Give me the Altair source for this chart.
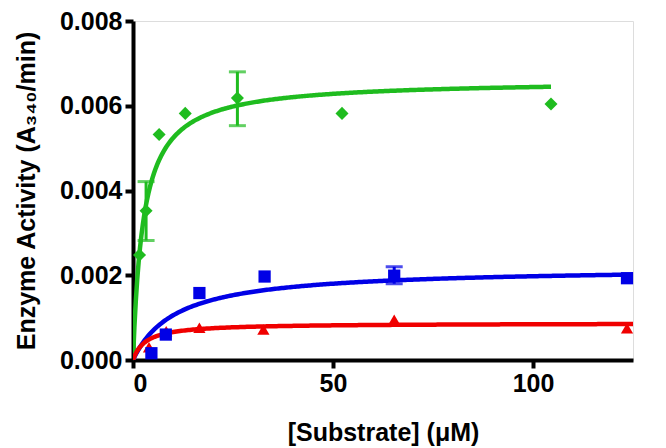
import altair as alt
import numpy as np
import pandas as pd

# ---- data ----
green_x = [1.63, 3.27, 6.53, 13.06, 26.1, 52.25, 104.5]
green_y = [0.00248, 0.00352, 0.00532, 0.00582, 0.00618, 0.00582, 0.00604]
blue_x = [4.6, 8.2, 16.6, 32.9, 65.3, 123.5]
blue_y = [0.00016, 0.00060, 0.00158, 0.00197, 0.00199, 0.00193]
red_x = [4.0, 8.3, 16.6, 32.6, 65.3, 123.5]
red_y = [0.00030, 0.00068, 0.00076, 0.00072, 0.00095, 0.00075]

# error bars (series, x, low, high)
err_series = ["green", "green", "blue"]
err_x = [3.27, 26.1, 65.3]
err_lo = [0.00282, 0.00553, 0.00180]
err_hi = [0.00421, 0.00680, 0.00220]

# Michaelis-Menten fit parameters (Vmax, Km, x-range end)
fit_series = ["green", "blue", "red"]
fit_vmax = [0.00661, 0.00219, 0.00087]
fit_km = [2.62, 10.8, 3.2]
fit_xmax = [104.5, 125.0, 125.0]

colors = {"green": "#1FBC1F", "blue": "#0000E6", "red": "#F00000"}
shapes = {"green": "diamond", "blue": "square", "red": "triangle-up"}
sizes = {"green": 170, "blue": 150, "red": 150}

pts = pd.concat([
    pd.DataFrame({"x": green_x, "y": green_y, "s": "green"}),
    pd.DataFrame({"x": blue_x, "y": blue_y, "s": "blue"}),
    pd.DataFrame({"x": red_x, "y": red_y, "s": "red"}),
])

curves = []
for s, v, k, xm in zip(fit_series, fit_vmax, fit_km, fit_xmax):
    xs = np.linspace(0, xm, 300)
    curves.append(pd.DataFrame({"x": xs, "y": v * xs / (k + xs), "s": s}))
curves = pd.concat(curves)

errs = pd.DataFrame({"s": err_series, "x": err_x, "lo": err_lo, "hi": err_hi})

xscale = alt.Scale(domain=[0, 125], nice=False)
yscale = alt.Scale(domain=[0, 0.008], nice=False)

axis_common = dict(
    domainColor="black", domainWidth=4, tickColor="black", tickWidth=4,
    tickSize=8, labelFont="Liberation Sans", labelFontWeight="bold",
    labelFontSize=25, labelColor="black", titleFont="Liberation Sans",
    titleFontWeight="bold", titleFontSize=25, titleColor="black", grid=False,
    labelPadding=3,
)

xenc = alt.X("x:Q", scale=xscale, axis=alt.Axis(
    title="[Substrate] (μM)", values=[0, 50, 100], titlePadding=24, **axis_common))
yenc = alt.Y("y:Q", scale=yscale, axis=alt.Axis(
    title="Enzyme Activity (A₃₄₀/min)", values=[0, 0.002, 0.004, 0.006, 0.008],
    format=".3f", titlePadding=20, **axis_common))

layers = []
for s in fit_series:
    layers.append(
        alt.Chart(curves[curves.s == s]).mark_line(
            color=colors[s], strokeWidth=4.5, clip=True
        ).encode(x=xenc, y=yenc)
    )

for s in ["green", "blue"]:
    e = errs[errs.s == s]
    layers.append(alt.Chart(e).mark_rule(color=colors[s], strokeWidth=3).encode(
        x="x:Q", y="lo:Q", y2="hi:Q"))
    layers.append(alt.Chart(e).mark_tick(color=colors[s], thickness=3, size=17,
                                         orient="horizontal").encode(x="x:Q", y="lo:Q"))
    layers.append(alt.Chart(e).mark_tick(color=colors[s], thickness=3, size=17,
                                         orient="horizontal").encode(x="x:Q", y="hi:Q"))

for s in ["red", "blue", "green"]:
    layers.append(
        alt.Chart(pts[pts.s == s]).mark_point(
            shape=shapes[s], filled=True, opacity=1, color=colors[s], size=sizes[s]
        ).encode(x="x:Q", y="y:Q")
    )

chart = alt.layer(*layers).properties(
    width=500, height=339,
    autosize=alt.AutoSizeParams(type="none"),
    padding={"left": 125, "top": 13, "right": 25, "bottom": 86},
).configure_view(stroke=None).configure(background="white")

chart.save("out.html", embed_options={"renderer": "svg", "actions": False})
